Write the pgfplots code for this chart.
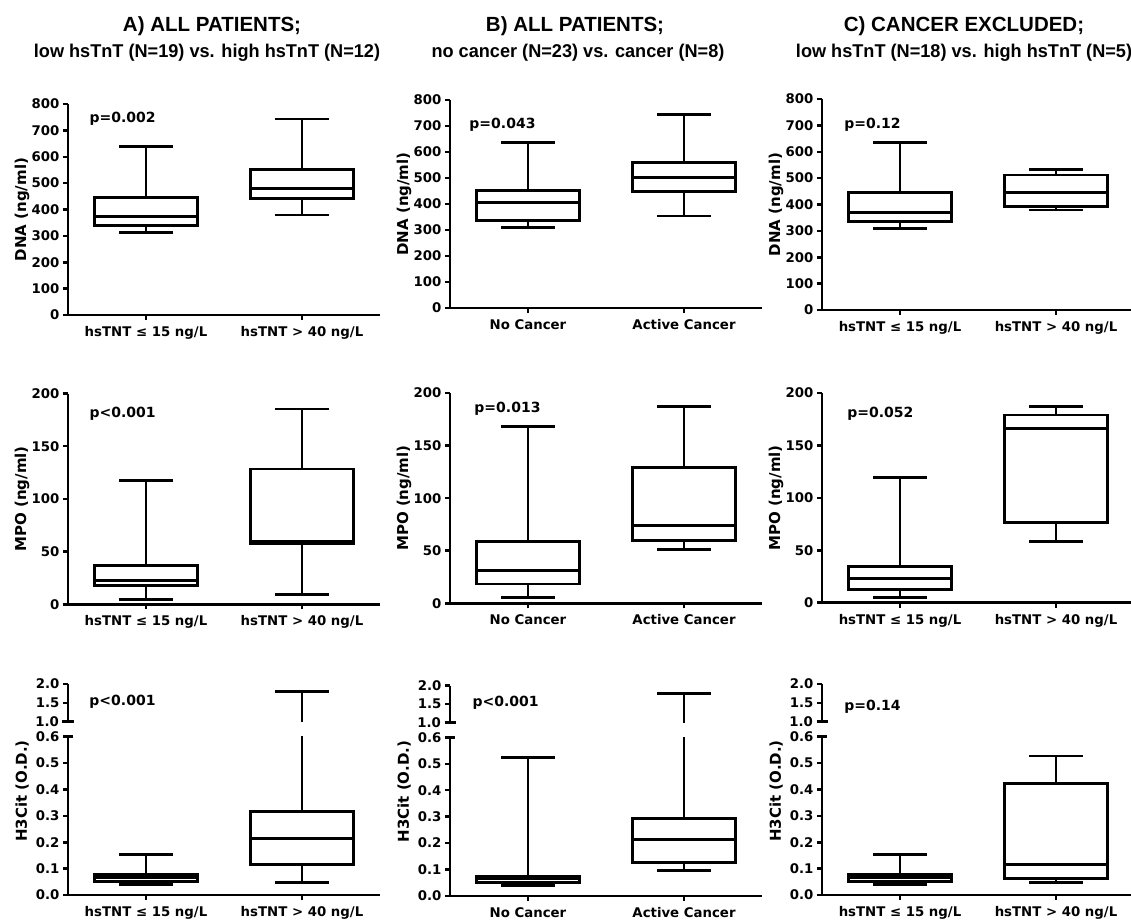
\documentclass[border=0pt]{standalone}
\usepackage{pgfplots}
\pgfplotsset{compat=1.18}
\usepackage{fontspec}
\setmainfont{Liberation Sans}
\newfontfamily\dv{DejaVu Sans}
\newcommand\tfont{\dv\bfseries\fontsize{13.3}{15}\selectfont}
\newcommand\lfont{\dv\bfseries\fontsize{15}{17}\selectfont}
\newcommand\pfont{\dv\bfseries\fontsize{14}{16}\selectfont}
\newcommand\ttlfont{\bfseries\fontsize{20.5}{23}\selectfont}
\newcommand\subfont{\bfseries\fontsize{18.5}{21}\selectfont}

% box plots: {lower whisker}{lower quartile}{median}{upper quartile}{upper whisker}
\newcommand\bxL[5]{\addplot[bp] coordinates {(0.67,#2)(1.33,#2)(1.33,#4)(0.67,#4)(0.67,#2) (nan,nan) (0.67,#3)(1.33,#3) (nan,nan) (1,#4)(1,#5) (nan,nan) (0.835,#5)(1.165,#5) (nan,nan) (1,#2)(1,#1) (nan,nan) (0.835,#1)(1.165,#1)};}
\newcommand\bxR[5]{\addplot[bp] coordinates {(1.67,#2)(2.33,#2)(2.33,#4)(1.67,#4)(1.67,#2) (nan,nan) (1.67,#3)(2.33,#3) (nan,nan) (2,#4)(2,#5) (nan,nan) (1.835,#5)(2.165,#5) (nan,nan) (2,#2)(2,#1) (nan,nan) (1.835,#1)(2.165,#1)};}

\pgfplotsset{
  bx/.style={
    scale only axis, width=312pt, xmin=0.5, xmax=2.5,
    axis lines=left, axis line style={-, line width=2.9pt},
    xtick={1,2}, tick align=outside, major tick length=5pt,
    tick style={line width=2.5pt, black},
    tick label style={font=\tfont},
    xticklabel style={yshift=-3pt},
    ylabel style={font=\lfont, at={(axis description cs:-0.147,0.5)}, anchor=center},
    clip=true, unbounded coords=jump,
  },
  hs/.style={xticklabels={hsTNT ≤ 15 ng/L, hsTNT > 40 ng/L}},
  nc/.style={xticklabels={No Cancer, Active Cancer}},
  dna/.style={bx, ymin=0, ymax=800, ytick={0,100,200,300,400,500,600,700,800}, yticklabels={0,100,200,300,400,500,600,700,800}, ylabel={DNA (ng/ml)}},
  mpo/.style={bx, ymin=0, ymax=200, ytick={0,50,100,150,200}, yticklabels={0,50,100,150,200}, ylabel={MPO (ng/ml)}},
  hlo/.style={bx, ymin=0, ymax=0.6, ytick={0,0.1,0.2,0.3,0.4,0.5}, yticklabels={0.0,0.1,0.2,0.3,0.4,0.5},
     extra y ticks={0.6}, extra y tick labels={0.6}, extra y tick style={tick align=center, major tick length=10pt},
     ylabel={H3Cit (O.D.)}, ylabel style={at={(axis description cs:-0.147,0.657)}}},
  hup/.style={bx, axis x line=none, ymin=1, ymax=2, ytick={1.5,2}, yticklabels={1.5,2.0}, xtick=\empty,
     extra y ticks={1}, extra y tick labels={1.0}, extra y tick style={tick align=center, major tick length=11pt}},
  bp/.style={black, line width=2.9pt, solid, mark=none, line cap=rect, line join=miter},
}

\begin{document}
\begin{tikzpicture}
\path[use as bounding box] (0,0) rectangle (1131pt,-921pt);

% titles
\node[anchor=base, font=\ttlfont] at (212pt,-31pt) {A) ALL PATIENTS;};
\node[anchor=base, font=\ttlfont] at (575pt,-31pt) {B) ALL PATIENTS;};
\node[anchor=base, font=\ttlfont] at (964pt,-31pt) {C) CANCER EXCLUDED;};
\node[anchor=base, font=\subfont] at (207pt,-57pt) {\scalebox{0.98}[1]{low hsTnT (N=19) vs. high hsTnT (N=12)}};
\node[anchor=base, font=\subfont] at (578pt,-57pt) {\scalebox{0.98}[1]{no cancer (N=23) vs. cancer (N=8)}};
\node[anchor=base, font=\subfont] at (964pt,-57pt) {\scalebox{0.98}[1]{low hsTnT (N=18) vs. high hsTnT (N=5)}};

% Row 1 DNA
\begin{axis}[dna, hs, at={(68pt,-315pt)}, anchor=south west, height=211pt]
\bxL{312}{339}{373}{446}{638}
\bxR{379}{442}{480}{550}{743}
\node[anchor=base west, font=\pfont] at (axis description cs:0.058,0.91) {p=0.002};
\end{axis}
\begin{axis}[dna, nc, at={(450pt,-308pt)}, anchor=south west, height=208pt]
\bxL{309}{338}{406}{451}{637}
\bxR{354}{449}{501}{560}{745}
\node[anchor=base west, font=\pfont] at (axis description cs:0.051,0.865) {p=0.043};
\end{axis}
\begin{axis}[dna, hs, at={(822pt,-310pt)}, anchor=south west, height=211pt]
\bxL{310}{335}{370}{446}{636}
\bxR{379}{394}{446}{512}{533}
\node[anchor=base west, font=\pfont] at (axis description cs:0.06,0.862) {p=0.12};
\end{axis}

% Row 2 MPO
\begin{axis}[mpo, hs, at={(68pt,-604.3pt)}, anchor=south west, height=210.8pt]
\bxL{4.7}{17.7}{22.5}{36.4}{117.4}
\bxR{9.5}{58}{60}{128.4}{185.3}
\node[anchor=base west, font=\pfont] at (axis description cs:0.058,0.884) {p<0.001};
\end{axis}
\begin{axis}[mpo, nc, at={(450pt,-603.3pt)}, anchor=south west, height=210.3pt]
\bxL{5.4}{18.4}{30.8}{58.7}{168.5}
\bxR{51.4}{59.4}{74}{129.5}{187}
\node[anchor=base west, font=\pfont] at (axis description cs:0.067,0.906) {p=0.013};
\end{axis}
\begin{axis}[mpo, hs, at={(822pt,-602.7pt)}, anchor=south west, height=209.7pt]
\bxL{5}{12.7}{23.1}{34.8}{119}
\bxR{58.5}{76.3}{166}{179}{187}
\node[anchor=base west, font=\pfont] at (axis description cs:0.07,0.883) {p=0.052};
\end{axis}

% Row 3 H3Cit lower
\begin{axis}[hlo, hs, at={(68pt,-895pt)}, anchor=south west, height=158.3pt]
\bxL{0.04}{0.05}{0.065}{0.078}{0.155}
\bxR{0.047}{0.116}{0.215}{0.316}{1.81}
\end{axis}
\begin{axis}[hlo, nc, at={(450pt,-896pt)}, anchor=south west, height=158.7pt]
\bxL{0.04}{0.05}{0.065}{0.075}{0.525}
\bxR{0.095}{0.126}{0.215}{0.294}{1.78}
\end{axis}
\begin{axis}[hlo, hs, at={(822pt,-895pt)}, anchor=south west, height=158.3pt]
\bxL{0.04}{0.05}{0.065}{0.078}{0.155}
\bxR{0.047}{0.063}{0.116}{0.423}{0.527}
\end{axis}
% Row 3 upper segments
\begin{axis}[hup, at={(68pt,-721.7pt)}, anchor=south west, height=37.7pt]
\bxR{0.047}{0.116}{0.215}{0.316}{1.81}
\node[anchor=base west, font=\pfont] at (axis cs:0.615,1.42) {p<0.001};
\end{axis}
\begin{axis}[hup, at={(450pt,-722.7pt)}, anchor=south west, height=37pt]
\bxR{0.095}{0.126}{0.215}{0.294}{1.78}
\node[anchor=base west, font=\pfont] at (axis cs:0.622,1.45) {p<0.001};
\end{axis}
\begin{axis}[hup, at={(822pt,-721.7pt)}, anchor=south west, height=37.7pt]
\node[anchor=base west, font=\pfont] at (axis cs:0.62,1.29) {p=0.14};
\end{axis}
\end{tikzpicture}
\end{document}
